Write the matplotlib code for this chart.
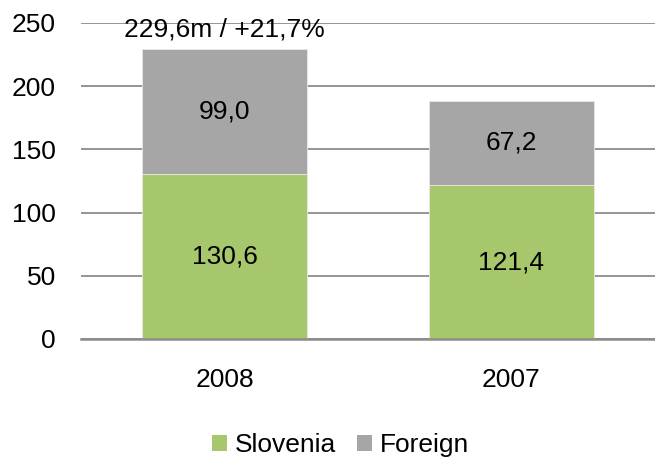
import matplotlib
matplotlib.use("Agg")
import matplotlib.pyplot as plt
from matplotlib.patches import Patch

plt.rcParams['font.family'] = ['Liberation Sans', 'DejaVu Sans']

categories = ["2008", "2007"]
slovenia = [130.6, 121.4]
foreign = [99.0, 67.2]
slovenia_labels = ["130,6", "121,4"]
foreign_labels = ["99,0", "67,2"]
total_label = "229,6m / +21,7%"
yticks = [0, 50, 100, 150, 200, 250]

green = "#A6C76C"
gray = "#A6A6A6"
FS = 19

fig = plt.figure(figsize=(6.55, 4.58), dpi=100)
ax = fig.add_axes([0.1237, 0.26, 0.876, 0.69])

x = list(range(len(categories)))
ax.bar(x, slovenia, width=0.575, color=green, edgecolor="#E8E8E8", linewidth=0.6, zorder=3)
ax.bar(x, foreign, width=0.575, bottom=slovenia, color=gray, edgecolor="#E8E8E8", linewidth=0.6, zorder=3)

for i in x:
    ax.text(i, slovenia[i] / 2, slovenia_labels[i], ha="center", va="center", fontsize=FS, zorder=4)
    ax.text(i, slovenia[i] + foreign[i] / 2, foreign_labels[i], ha="center", va="center", fontsize=FS, zorder=4)

ax.annotate(total_label, xy=(0, slovenia[0] + foreign[0]), xytext=(0, 5), textcoords="offset points",
            ha="center", va="bottom", fontsize=FS, zorder=4)

ax.set_xlim(-0.5, 1.5)
ax.set_ylim(0, 250)
ax.set_yticks(yticks)
ax.set_xticks(x)
ax.set_xticklabels(categories)
ax.tick_params(axis="both", length=0, labelsize=FS)
ax.tick_params(axis="y", pad=18)
ax.tick_params(axis="x", pad=21)
ax.yaxis.grid(True, color="#8C8C8C", linewidth=1.3, zorder=1)
for s in ["left", "right", "top"]:
    ax.spines[s].set_visible(False)
ax.spines["bottom"].set_color("#8C8C8C")
ax.spines["bottom"].set_linewidth(1.8)
ax.spines["bottom"].set_zorder(5)

handles = [Patch(facecolor=green, label="Slovenia"), Patch(facecolor=gray, label="Foreign")]
fig.legend(handles=handles, loc="center", bbox_to_anchor=(0.52, 0.028), ncol=2, frameon=False,
           fontsize=FS, handlelength=0.55, handleheight=0.55, handletextpad=0.3, columnspacing=0.8)

fig.savefig("out.png", dpi=100)
